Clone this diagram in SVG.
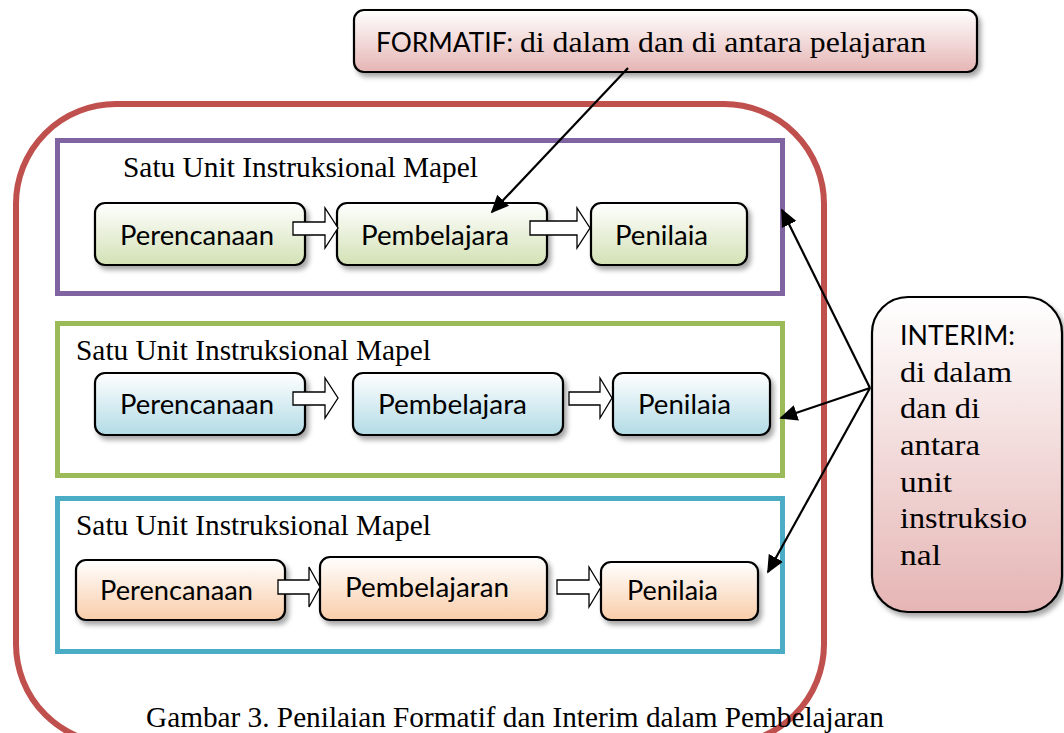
<svg xmlns="http://www.w3.org/2000/svg" width="1064" height="733" viewBox="0 0 1064 733">
<defs>
<linearGradient id="gGreen" x1="0" y1="0" x2="0" y2="1"><stop offset="0" stop-color="#ffffff"/><stop offset="1" stop-color="#d3e1b5"/></linearGradient>
<linearGradient id="gBlue" x1="0" y1="0" x2="0" y2="1"><stop offset="0" stop-color="#ffffff"/><stop offset="1" stop-color="#b2dbe6"/></linearGradient>
<linearGradient id="gOrange" x1="0" y1="0" x2="0" y2="1"><stop offset="0" stop-color="#ffffff"/><stop offset="1" stop-color="#f9cda9"/></linearGradient>
<linearGradient id="gPink" x1="0" y1="0" x2="0" y2="1"><stop offset="0" stop-color="#ffffff"/><stop offset="1" stop-color="#e5b5b4"/></linearGradient>
<filter id="sh" x="-10%" y="-10%" width="130%" height="140%"><feDropShadow dx="3" dy="4" stdDeviation="2.5" flood-color="#000" flood-opacity="0.35"/></filter>
<marker id="ah2" viewBox="0 0 10 10" refX="9" refY="5" markerWidth="18" markerHeight="18" orient="auto" markerUnits="userSpaceOnUse"><path d="M0,0.5 L10,5 L0,9.5 z" fill="#000"/></marker>
</defs>
<style>
.box{stroke:#000;stroke-width:2.2;filter:url(#sh)}
.lbl{font-family:Lato,"Liberation Sans",sans-serif;font-size:27px;fill:#000}
.ser{font-family:"Liberation Serif","Times New Roman",serif;font-size:30px;fill:#000}
.blk{fill:#fff;stroke:#000;stroke-width:1.3}
.ln{stroke:#000;stroke-width:2.2;fill:none;marker-end:url(#ah2)}
</style>
<rect width="1064" height="733" fill="#fff"/>

<g id="outer">
<rect x="16" y="104" width="808" height="640" rx="100" ry="100" fill="none" stroke="#c0504d" stroke-width="6"/>
</g>

<g id="unit1">
<rect x="57.5" y="140.5" width="725" height="153" fill="none" stroke="#8064a2" stroke-width="5"/>
<text class="ser" x="123" y="177" textLength="355" lengthAdjust="spacingAndGlyphs">Satu Unit Instruksional Mapel</text>
</g>
<g id="unit2">
<rect x="57.5" y="323.5" width="725" height="152" fill="none" stroke="#9bbb59" stroke-width="5"/>
<text class="ser" x="76" y="360" textLength="355" lengthAdjust="spacingAndGlyphs">Satu Unit Instruksional Mapel</text>
</g>
<g id="unit3">
<rect x="57.5" y="498.5" width="725" height="153" fill="none" stroke="#4bacc6" stroke-width="5"/>
<text class="ser" x="76" y="535" textLength="355" lengthAdjust="spacingAndGlyphs">Satu Unit Instruksional Mapel</text>
</g>

<g id="r1-plan"><rect class="box" x="95" y="203" width="210" height="62" rx="10" fill="url(#gGreen)"/><text class="lbl" x="120" y="245" textLength="154" lengthAdjust="spacingAndGlyphs">Perencanaan</text></g>
<g id="r1-learn"><rect class="box" x="337" y="203" width="210" height="62" rx="10" fill="url(#gGreen)"/><text class="lbl" x="361" y="245" textLength="148" lengthAdjust="spacingAndGlyphs">Pembelajara</text></g>
<g id="r1-assess"><rect class="box" x="591" y="203" width="156" height="62" rx="10" fill="url(#gGreen)"/><text class="lbl" x="615" y="245" textLength="93" lengthAdjust="spacingAndGlyphs">Penilaia</text></g>

<g id="r2-plan"><rect class="box" x="95" y="373" width="210" height="62" rx="10" fill="url(#gBlue)"/><text class="lbl" x="120" y="414" textLength="154" lengthAdjust="spacingAndGlyphs">Perencanaan</text></g>
<g id="r2-learn"><rect class="box" x="353" y="373" width="210" height="62" rx="10" fill="url(#gBlue)"/><text class="lbl" x="378" y="414" textLength="149" lengthAdjust="spacingAndGlyphs">Pembelajara</text></g>
<g id="r2-assess"><rect class="box" x="613" y="373" width="157" height="62" rx="10" fill="url(#gBlue)"/><text class="lbl" x="638" y="414" textLength="93" lengthAdjust="spacingAndGlyphs">Penilaia</text></g>

<g id="r3-plan"><rect class="box" x="76" y="560" width="209" height="60" rx="10" fill="url(#gOrange)"/><text class="lbl" x="100" y="600" textLength="153" lengthAdjust="spacingAndGlyphs">Perencanaan</text></g>
<g id="r3-learn"><rect class="box" x="320" y="557" width="227" height="63" rx="10" fill="url(#gOrange)"/><text class="lbl" x="345" y="597" textLength="164" lengthAdjust="spacingAndGlyphs">Pembelajaran</text></g>
<g id="r3-assess"><rect class="box" x="601" y="562" width="157" height="58" rx="10" fill="url(#gOrange)"/><text class="lbl" x="627" y="600" textLength="91" lengthAdjust="spacingAndGlyphs">Penilaia</text></g>

<g id="formatif">
<rect class="box" x="354" y="10" width="623" height="62" rx="10" fill="url(#gPink)"/>
<text x="376" y="52"><tspan class="lbl" font-size="28" textLength="137" lengthAdjust="spacingAndGlyphs">FORMATIF:</tspan><tspan class="ser" x="520" font-size="34" textLength="406" lengthAdjust="spacingAndGlyphs">di dalam dan di antara pelajaran</tspan></text>
</g>

<g id="interim">
<rect class="box" x="872" y="297" width="190" height="315" rx="36" fill="url(#gPink)"/>
<text class="lbl" x="900" y="345" font-size="28" textLength="115" lengthAdjust="spacingAndGlyphs">INTERIM:</text>
<text class="ser" font-size="34">
<tspan x="900" y="382" textLength="112" lengthAdjust="spacingAndGlyphs">di dalam</tspan>
<tspan x="900" y="418" textLength="80" lengthAdjust="spacingAndGlyphs">dan di</tspan>
<tspan x="900" y="455" textLength="80" lengthAdjust="spacingAndGlyphs">antara</tspan>
<tspan x="900" y="492" textLength="52" lengthAdjust="spacingAndGlyphs">unit</tspan>
<tspan x="900" y="528" textLength="127" lengthAdjust="spacingAndGlyphs">instruksio</tspan>
<tspan x="900" y="565" textLength="41" lengthAdjust="spacingAndGlyphs">nal</tspan>
</text>
</g>

<g id="caption">
<text class="ser" x="146" y="727" font-size="30" textLength="738" lengthAdjust="spacingAndGlyphs">Gambar 3. Penilaian Formatif dan Interim dalam Pembelajaran</text>
</g>

<g id="connectors">
<path class="blk" d="M293,222 H325 V208 L338,228 L325,248 V235 H293 Z"/>
<path class="blk" d="M530,221 H577 V208 L590,228 L577,248 V235 H530 Z"/>
<path class="blk" d="M293,392 H325 V378 L338,398 L325,418 V405 H293 Z"/>
<path class="blk" d="M569,392 H600 V378 L612,398 L600,418 V405 H569 Z"/>
<path class="blk" d="M278,580 H309 V567 L320,587 L309,607 V594 H278 Z"/>
<path class="blk" d="M557,580 H589 V567 L601,587 L589,607 V594 H557 Z"/>
<line class="ln" x1="628" y1="68" x2="492" y2="212"/>
<line class="ln" x1="870" y1="388" x2="782" y2="210"/>
<line class="ln" x1="870" y1="388" x2="781" y2="418"/>
<line class="ln" x1="870" y1="388" x2="768" y2="572"/>
</g>
</svg>
